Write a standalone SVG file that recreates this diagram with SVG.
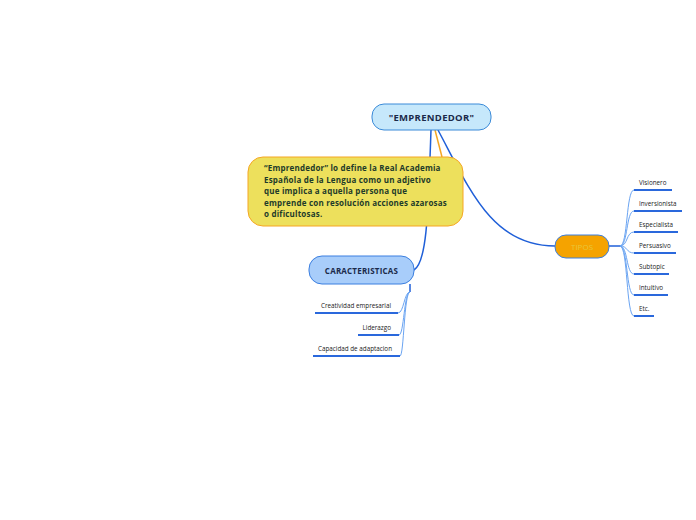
<svg xmlns="http://www.w3.org/2000/svg" width="696" height="520" viewBox="0 0 696 520">
<style>
.t{font-family:"Open Sans","Noto Sans",sans-serif}
.c{fill:none;stroke:#1f5fd8;stroke-width:1.5}
.cl{fill:none;stroke:#6aa4f2;stroke-width:1}
.u{stroke:#2a68dc;stroke-width:2}
.s{font-size:6.3px;fill:#222}
</style>
<rect width="696" height="520" fill="#fff"/>
<g id="connectors">
<path class="c" d="M431,130 C428,215 427,262 414,270"/>
<path fill="none" stroke="#f5a623" stroke-width="1.5" d="M435,130 L442,157"/>
<path class="c" d="M438,130 C470,190 492,246 555,246"/>
<path class="c" d="M609,246 L620,246"/>
<path class="cl" d="M620,246 C628,246 626,190 634,190"/>
<path class="cl" d="M620,246 C628,246 626,211 634,211"/>
<path class="cl" d="M620,246 C628,246 626,232 634,232"/>
<path class="cl" d="M620,246 C628,246 626,253 634,253"/>
<path class="cl" d="M620,246 C628,246 626,274 634,274"/>
<path class="cl" d="M620,246 C628,246 626,295 634,295"/>
<path class="cl" d="M620,246 C628,246 626,316 634,316"/>
<path class="c" d="M410,284 L410,292"/>
<path class="cl" d="M410,292 C404,292 404,313 398,313"/>
<path class="cl" d="M410,292 C404,292 404,335 399,335"/>
<path class="cl" d="M410,292 C404,292 404,356 400,356"/>
</g>
<g id="root">
<rect x="372" y="104" width="119" height="26" rx="12" fill="#c6e8fb" stroke="#3a8ad8" stroke-width="1"/>
<text class="t" x="431.5" y="121" text-anchor="middle" font-size="9.5" font-weight="bold" letter-spacing="0.3" fill="#1b2a4a">"EMPRENDEDOR"</text>
</g>
<g id="definicion">
<rect x="248" y="157" width="215" height="69" rx="15" fill="#ede05c" stroke="#f5a623" stroke-width="1"/>
<text class="t" font-size="8" font-weight="bold" letter-spacing="0.2" fill="#1e3b2a">
<tspan x="264" y="171">“Emprendedor” lo define la Real Academia</tspan>
<tspan x="264" y="182.5">Española de la Lengua como un adjetivo</tspan>
<tspan x="264" y="194">que implica a aquella persona que</tspan>
<tspan x="264" y="205.5">emprende con resolución acciones azarosas</tspan>
<tspan x="264" y="217">o dificultosas.</tspan>
</text>
</g>
<g id="caracteristicas">
<rect x="309" y="256" width="105" height="28" rx="13" fill="#a8cdfa" stroke="#3b7fe0" stroke-width="1"/>
<text class="t" x="361.5" y="273.5" text-anchor="middle" font-size="8" font-weight="bold" letter-spacing="0.2" fill="#1b2a4a">CARACTERISTICAS</text>
</g>
<g id="c1"><text class="t s" x="391" y="308" text-anchor="end">Creatividad empresarial</text><line class="u" x1="315" y1="313" x2="398" y2="313"/></g>
<g id="c2"><text class="t s" x="391" y="330" text-anchor="end">Liderazgo</text><line class="u" x1="358" y1="335" x2="399" y2="335"/></g>
<g id="c3"><text class="t s" x="392" y="351" text-anchor="end">Capacidad de adaptacion</text><line class="u" x1="313" y1="356" x2="400" y2="356"/></g>
<g id="tipos">
<rect x="555" y="235" width="54" height="23" rx="11" fill="#f5a300" stroke="#3b7fe0" stroke-width="1"/>
<text class="t" x="582" y="249.5" text-anchor="middle" font-size="8" fill="#e8c53a">TIPOS</text>
</g>
<g id="t1"><text class="t s" x="639" y="185">Visionero</text><line class="u" x1="634" y1="190" x2="672" y2="190"/></g>
<g id="t2"><text class="t s" x="639" y="206">Inversionista</text><line class="u" x1="634" y1="211" x2="682" y2="211"/></g>
<g id="t3"><text class="t s" x="639" y="227">Especialista</text><line class="u" x1="634" y1="232" x2="678" y2="232"/></g>
<g id="t4"><text class="t s" x="639" y="248">Persuasivo</text><line class="u" x1="634" y1="253" x2="676" y2="253"/></g>
<g id="t5"><text class="t s" x="639" y="269">Subtopic</text><line class="u" x1="634" y1="274" x2="669" y2="274"/></g>
<g id="t6"><text class="t s" x="639" y="290">Intuitivo</text><line class="u" x1="634" y1="295" x2="668" y2="295"/></g>
<g id="t7"><text class="t s" x="639" y="311">Etc.</text><line class="u" x1="634" y1="316" x2="654" y2="316"/></g>
</svg>
